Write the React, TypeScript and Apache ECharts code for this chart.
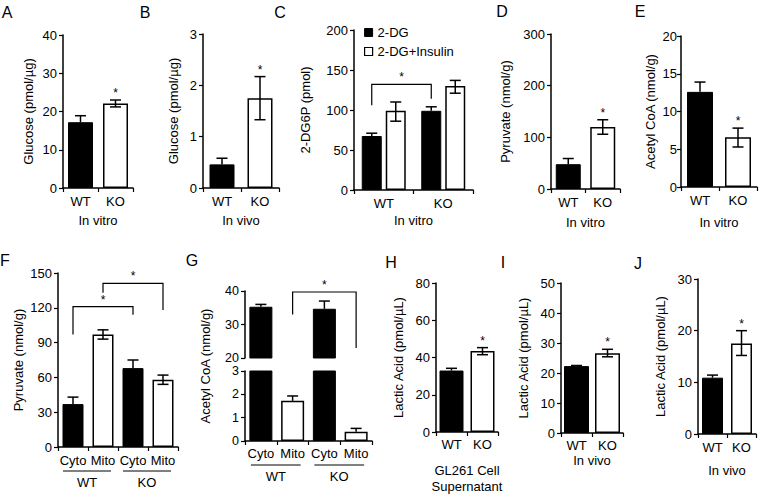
import React, { useEffect, useRef } from "react";
import * as echarts from "echarts";

const FONT = "'Liberation Sans', Arial, Helvetica, sans-serif";

// ---------------- data ----------------
// A
const catsA = ["WT", "KO"];
const meanA = [17.2, 22.1];
const hiA = [18.9, 23.0];
const loA = [17.2, 21.2];
const sigA = [0, 1];
const axisA = [0, 40, 10];
// B
const catsB = ["WT", "KO"];
const meanB = [0.46, 1.75];
const hiB = [0.58, 2.17];
const loB = [0.46, 1.33];
const sigB = [0, 1];
const axisB = [0, 3, 1];
// C
const catsC = ["WT", "KO"];
const namesC = ["2-DG", "2-DG+Insulin"];
const meanC_DG = [67.5, 99];
const hiC_DG = [71, 104];
const loC_DG = [67.5, 99];
const meanC_Ins = [99, 130];
const hiC_Ins = [110, 137];
const loC_Ins = [86, 121];
const bracketC = [[0, 1, 132, 106, 114]]; // fromCat, toCat, top, legFrom, legTo
const axisC = [0, 200, 50];
// D
const catsD = ["WT", "KO"];
const meanD = [48, 120];
const hiD = [59, 134];
const loD = [48, 106];
const sigD = [0, 1];
const axisD = [0, 300, 100];
// E
const catsE = ["WT", "KO"];
const meanE = [12.6, 6.6];
const hiE = [13.9, 7.8];
const loE = [12.6, 5.3];
const sigE = [0, 1];
const axisE = [0, 20, 5];
// F
const fracF = ["Cyto", "Mito", "Cyto", "Mito"];
const genoF = ["WT", "WT", "KO", "KO"];
const meanF = [37, 97, 68, 58];
const hiF = [43, 101, 75, 62];
const loF = [37, 93, 68, 54];
const bracketsF = [
  [0, 2, 121, 97, 114],
  [1, 3, 141, 133, 118],
];
const axisF = [0, 150, 30];
// G
const fracG = ["Cyto", "Mito", "Cyto", "Mito"];
const genoG = ["WT", "WT", "KO", "KO"];
const meanG = [35.3, 1.72, 34.7, 0.4];
const hiG = [36, 1.93, 37, 0.54];
const loG = [35.3, 1.72, 34.7, 0.4];
const bracketG = [[1, 3, 39.7, 33, 23]];
const axisGTop = [20, 40, 10];
const axisGBottom = [0, 3, 1];
// H
const catsH = ["WT", "KO"];
const meanH = [33, 43.5];
const hiH = [34.2, 45.3];
const loH = [33, 41.5];
const sigH = [0, 1];
const axisH = [0, 80, 20];
// I
const catsI = ["WT", "KO"];
const meanI = [22.3, 26.6];
const hiI = [22.5, 27.9];
const loI = [22.3, 25.4];
const sigI = [0, 1];
const axisI = [0, 50, 10];
// J
const catsJ = ["WT", "KO"];
const meanJ = [10.9, 17.5];
const hiJ = [11.4, 20];
const loJ = [10.9, 15.2];
const sigJ = [0, 1];
const axisJ = [0, 30, 10];

// ---------------- layout ----------------
const L = {
  A: { left: 63, top: 35, width: 70, height: 153 },
  B: { left: 203, top: 34, width: 76, height: 154 },
  C: { left: 354, top: 30, width: 119, height: 160 },
  D: { left: 551, top: 34, width: 69, height: 155 },
  E: { left: 681, top: 36, width: 76, height: 151 },
  F: { left: 58, top: 273, width: 120, height: 174 },
  Gt: { left: 245, top: 291, width: 127, height: 67 },
  Gb: { left: 245, top: 371, width: 127, height: 70 },
  H: { left: 436, top: 283, width: 62, height: 149 },
  I: { left: 561, top: 283, width: 62, height: 150 },
  J: { left: 698, top: 279, width: 58, height: 155 },
};
const LETTERS: [string, number, number][] = [
  ["A", 7, 12], ["B", 145, 12], ["C", 280, 12], ["D", 502, 11], ["E", 640, 11],
  ["F", 5, 260], ["G", 192, 260], ["H", 391, 262], ["I", 503, 262], ["J", 638, 263],
];

const CAP = 5.5;
const BLACK = { color: "#000", borderColor: "#000", borderWidth: 1 };
const WHITE = { color: "#fff", borderColor: "#000", borderWidth: 1.5 };

function textEl(text: string, x: number, y: number, size: number, va = "middle", extra: any = {}) {
  return {
    type: "text",
    x,
    y,
    ...extra,
    style: {
      text,
      font: `${size}px ${FONT}`,
      fill: "#000",
      align: "center",
      textAlign: "center",
      verticalAlign: va,
      textVerticalAlign: va,
    },
  };
}

// rows: [cat, lo, hi, offsetPx, sig, mean]
function errRender(_p: any, api: any) {
  const c = api.value(0);
  const hi = api.coord([c, api.value(2)]);
  const lo = api.coord([c, api.value(1)]);
  const mean = api.value(5);
  const x = hi[0] + api.value(3);
  const st = { stroke: "#000", lineWidth: 1.5 };
  const children: any[] = [
    { type: "line", shape: { x1: x, y1: hi[1], x2: x, y2: lo[1] }, style: st },
    { type: "line", shape: { x1: x - CAP, y1: hi[1], x2: x + CAP, y2: hi[1] }, style: st },
  ];
  if (api.value(1) < mean - 1e-9) {
    children.push({ type: "line", shape: { x1: x - CAP, y1: lo[1], x2: x + CAP, y2: lo[1] }, style: st });
  }
  if (api.value(4)) children.push(textEl("*", x, hi[1] - 1, 12, "bottom"));
  return { type: "group", children };
}

// rows: [catA, catB, top, legA, legB, offA, offB]
function bracketRender(_p: any, api: any) {
  const a = api.coord([api.value(0), api.value(2)]);
  const b = api.coord([api.value(1), api.value(2)]);
  const la = api.coord([api.value(0), api.value(3)]);
  const lb = api.coord([api.value(1), api.value(4)]);
  const xa = a[0] + api.value(5);
  const xb = b[0] + api.value(6);
  return {
    type: "group",
    children: [
      {
        type: "polyline",
        shape: { points: [[xa, la[1]], [xa, a[1]], [xb, b[1]], [xb, lb[1]]] },
        style: { stroke: "#000", lineWidth: 1.2, fill: "none" },
      },
      textEl("*", (xa + xb) / 2, a[1] - 1, 12, "bottom"),
    ],
  };
}

function buildOption() {
  const grid: any[] = [];
  const xAxis: any[] = [];
  const yAxis: any[] = [];
  const series: any[] = [];
  const nameStyle = { color: "#000", fontSize: 13, fontFamily: FONT, lineHeight: 16 };

  const addGrid = (g: any, cats: string[], yr: number[], o: any = {}) => {
    const i = grid.length;
    grid.push({ ...g });
    xAxis.push({
      type: "category",
      gridIndex: i,
      data: cats,
      show: !o.hideX,
      axisLine: { show: true, lineStyle: { color: "#000", width: 1.5 } },
      axisTick: { show: true, length: 4, lineStyle: { color: "#000", width: 1.2 } },
      axisLabel: { color: "#000", fontSize: 13, margin: o.xMargin ?? 7, interval: 0, fontFamily: FONT, formatter: o.fmt },
      name: o.xName,
      nameLocation: "middle",
      nameGap: o.xNameGap,
      nameTextStyle: nameStyle,
    });
    yAxis.push({
      type: "value",
      gridIndex: i,
      min: yr[0],
      max: yr[1],
      interval: yr[2],
      name: o.yName,
      nameLocation: "middle",
      nameGap: o.yNameGap,
      nameRotate: 90,
      nameTextStyle: nameStyle,
      axisLine: { show: true, lineStyle: { color: "#000", width: 1.5 } },
      axisTick: { show: true, length: 4, lineStyle: { color: "#000", width: 1.2 } },
      axisLabel: {
        color: "#000",
        fontSize: o.yFont ?? 13,
        lineHeight: o.yLineHeight,
        margin: o.yMargin ?? 6,
        fontFamily: FONT,
      },
      splitLine: { show: false },
    });
    return i;
  };
  const addBars = (i: number, vals: any[], isBlack: (k: number) => boolean, barWidth: number, extra: any = {}) => {
    series.push({
      type: "bar",
      xAxisIndex: i,
      yAxisIndex: i,
      barWidth,
      data: vals.map((v, k) => ({ value: v, itemStyle: isBlack(k) ? BLACK : WHITE })),
      ...extra,
    });
  };
  const addErr = (i: number, rows: number[][]) => {
    series.push({ type: "custom", xAxisIndex: i, yAxisIndex: i, z: 5, silent: true, renderItem: errRender, data: rows });
  };
  const addBrackets = (i: number, rows: number[][]) => {
    series.push({ type: "custom", xAxisIndex: i, yAxisIndex: i, z: 6, silent: true, renderItem: bracketRender, data: rows });
  };
  const rowsOf = (mean: number[], lo: number[], hi: number[], sig: number[] | null, off = 0, keep?: (v: number) => boolean) =>
    mean
      .map((m, k) => [k, lo[k], hi[k], off, sig ? sig[k] : 0, m])
      .filter((r) => (keep ? keep(r[5]) : true));
  const addGroups = (i: number, geno: string[], yMin: number) => {
    const groups: { label: string; from: number; to: number }[] = [];
    geno.forEach((g, k) => {
      const last = groups[groups.length - 1];
      if (last && last.label === g) last.to = k;
      else groups.push({ label: g, from: k, to: k });
    });
    series.push({
      type: "custom",
      xAxisIndex: i,
      yAxisIndex: i,
      silent: true,
      data: groups.map((g) => [g.from, yMin]),
      renderItem: (params: any, api: any) => {
        const g = groups[params.dataIndex];
        const a = api.coord([g.from, yMin]);
        const b = api.coord([g.to, yMin]);
        const x1 = a[0] - 10;
        const x2 = b[0] + 8;
        const y = a[1] + 24;
        return {
          type: "group",
          children: [
            { type: "line", shape: { x1, y1: y, x2, y2: y }, style: { stroke: "#000", lineWidth: 1 } },
            textEl(g.label, (x1 + x2) / 2, y + 11, 13, "middle"),
          ],
        };
      },
    });
  };

  const wtBlack = (cats: string[]) => (k: number) => cats[k] === "WT";

  // A
  let i = addGrid(L.A, catsA, axisA, { yName: "Glucose (pmol/µg)", yNameGap: 27, xName: "In vitro", xNameGap: 24 });
  addBars(i, meanA, wtBlack(catsA), 25);
  addErr(i, rowsOf(meanA, loA, hiA, sigA));
  // B
  i = addGrid(L.B, catsB, axisB, { yName: "Glucose (pmol/µg)", yNameGap: 22, xName: "In vivo", xNameGap: 24 });
  addBars(i, meanB, wtBlack(catsB), 25);
  addErr(i, rowsOf(meanB, loB, hiB, sigB));
  // C
  i = addGrid(L.C, catsC, axisC, { yName: "2-DG6P (pmol)", yNameGap: 41, xName: "In vitro", xNameGap: 22 });
  const bwC = 20;
  const offC = (bwC * 1.2) / 2;
  addBars(i, meanC_DG, () => true, bwC, { name: namesC[0], barGap: "20%", itemStyle: BLACK });
  addBars(i, meanC_Ins, () => false, bwC, { name: namesC[1], barGap: "20%", itemStyle: WHITE });
  addErr(i, rowsOf(meanC_DG, loC_DG, hiC_DG, null, -offC));
  addErr(i, rowsOf(meanC_Ins, loC_Ins, hiC_Ins, null, offC));
  addBrackets(i, bracketC.map((r) => [...r, -offC, -offC]));
  // D
  i = addGrid(L.D, catsD, axisD, { yName: "Pyruvate (nmol/g)", yNameGap: 38, xName: "In vitro", xNameGap: 25 });
  addBars(i, meanD, wtBlack(catsD), 25);
  addErr(i, rowsOf(meanD, loD, hiD, sigD));
  // E
  i = addGrid(L.E, catsE, axisE, { yName: "Acetyl CoA (nmol/g)", yNameGap: 15, yMargin: 4, xName: "In vitro", xNameGap: 27 });
  addBars(i, meanE, wtBlack(catsE), 26);
  addErr(i, rowsOf(meanE, loE, hiE, sigE));
  // F
  const catF = fracF.map((f, k) => `${genoF[k]} ${f}`);
  const fmt = (v: string) => v.split(" ")[1];
  i = addGrid(L.F, catF, axisF, { yName: "Pyruvate (nmol/g)", yNameGap: 32, fmt });
  addBars(i, meanF, (k) => fracF[k] === "Cyto", 21);
  addErr(i, rowsOf(meanF, loF, hiF, null));
  addBrackets(i, bracketsF.map((r) => [...r, 0, 0]));
  addGroups(i, genoF, axisF[0]);
  // G (broken axis)
  const catG = fracG.map((f, k) => `${genoG[k]} ${f}`);
  const gTop = addGrid(L.Gt, catG, axisGTop, { hideX: true, yFont: 12.5, yLineHeight: 11 });
  addBars(gTop, meanG.map((v) => (v > axisGTop[0] ? v : "-")), (k) => fracG[k] === "Cyto", 23);
  addErr(gTop, rowsOf(meanG, loG, hiG, null, 0, (v) => v > axisGTop[0]));
  addBrackets(gTop, bracketG.map((r) => [...r, 0, 0]));
  const gBot = addGrid(L.Gb, catG, axisGBottom, { fmt, xMargin: 6, yFont: 12.5, yLineHeight: 11 });
  addBars(gBot, meanG, (k) => fracG[k] === "Cyto", 23);
  addErr(gBot, rowsOf(meanG, loG, hiG, null, 0, (v) => v <= axisGBottom[1]));
  addGroups(gBot, genoG, axisGBottom[0]);
  // H
  i = addGrid(L.H, catsH, axisH, { yName: "Lactic Acid (pmol/µL)", yNameGap: 30, xName: "GL261 Cell\nSupernatant", xNameGap: 30, xMargin: 6 });
  addBars(i, meanH, wtBlack(catsH), 24);
  addErr(i, rowsOf(meanH, loH, hiH, sigH));
  // I
  i = addGrid(L.I, catsI, axisI, { yName: "Lactic Acid (pmol/µL)", yNameGap: 30, xName: "In vivo", xNameGap: 19, xMargin: 6 });
  addBars(i, meanI, wtBlack(catsI), 25);
  addErr(i, rowsOf(meanI, loI, hiI, sigI));
  // J
  i = addGrid(L.J, catsJ, axisJ, { yName: "Lactic Acid (pmol/µL)", yNameGap: 30, xName: "In vivo", xNameGap: 28, xMargin: 7 });
  addBars(i, meanJ, wtBlack(catsJ), 21);
  addErr(i, rowsOf(meanJ, loJ, hiJ, sigJ));

  const graphic: any[] = LETTERS.map(([t, x, y]) => textEl(t, x, y, 16, "middle"));
  graphic.push(
    textEl("Acetyl CoA (nmol/g)", L.Gt.left - 40, (L.Gt.top + L.Gb.top + L.Gb.height) / 2, 13, "middle", { rotation: Math.PI / 2 })
  );

  return {
    animation: false,
    backgroundColor: "#fff",
    textStyle: { fontFamily: FONT },
    grid,
    xAxis,
    yAxis,
    series,
    graphic,
    legend: {
      show: true,
      orient: "vertical",
      left: 364,
      top: 26,
      padding: 0,
      itemWidth: 8,
      itemHeight: 8,
      itemGap: 6,
      icon: "rect",
      selectedMode: false,
      textStyle: { color: "#000", fontSize: 13, fontFamily: FONT },
      data: [
        { name: namesC[0], itemStyle: { color: "#000", borderColor: "#000", borderWidth: 1 } },
        { name: namesC[1], itemStyle: { color: "#fff", borderColor: "#000", borderWidth: 1.2 } },
      ],
    },
  };
}

export default function App() {
  const ref = useRef<HTMLDivElement>(null);
  useEffect(() => {
    const chart = echarts.init(ref.current as HTMLDivElement, null, { renderer: "svg" });
    chart.setOption(buildOption() as any);
    return () => chart.dispose();
  }, []);
  return (
    <div
      ref={ref}
      style={{ position: "fixed", left: 0, top: 0, width: 760, height: 495, background: "#fff" }}
    />
  );
}
